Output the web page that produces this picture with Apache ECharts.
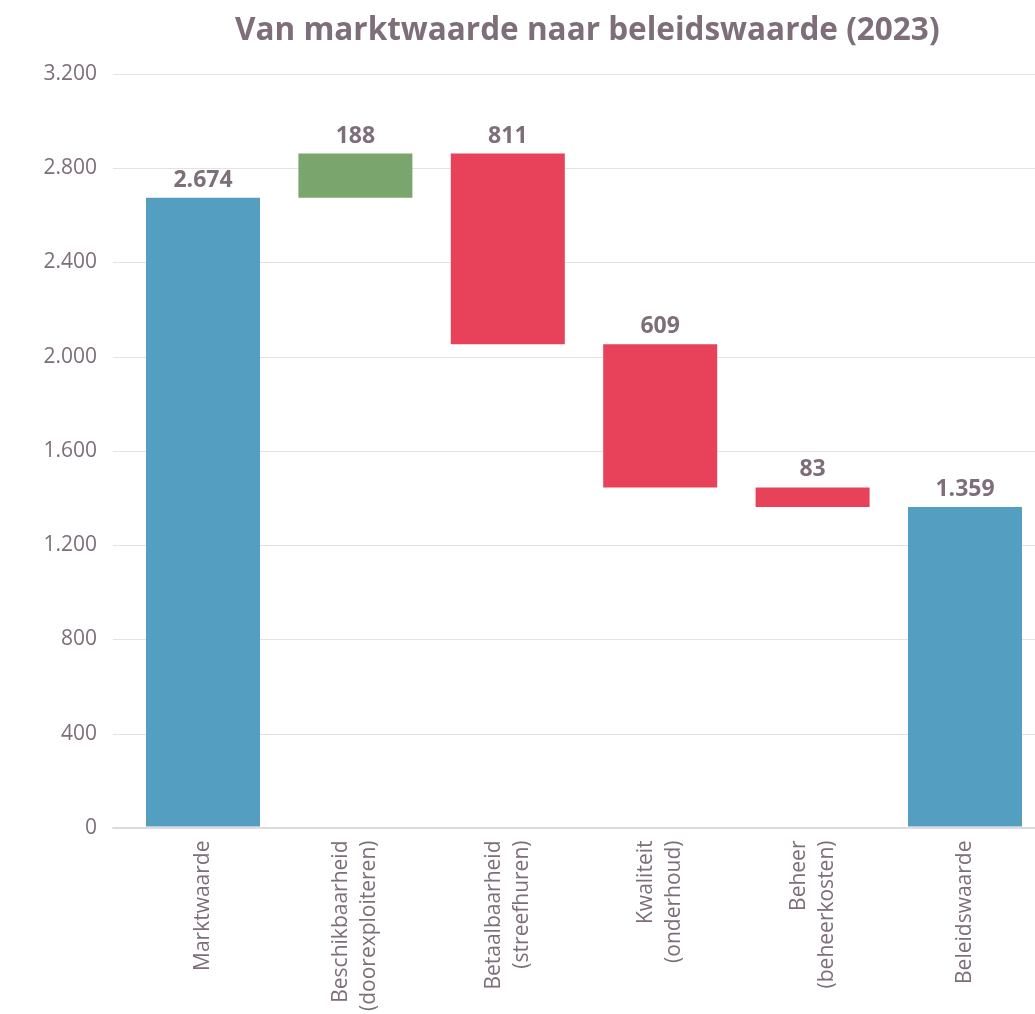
<!DOCTYPE html>
<html>
<head>
<meta charset="utf-8">
<script src="https://cdn.jsdelivr.net/npm/echarts@6/dist/echarts.min.js"></script>
<style>
  html, body { margin: 0; padding: 0; background: #fff; }
  #chart { width: 1035px; height: 1014px; }
</style>
</head>
<body>
<div id="chart"></div>
<script>
var categories = ['Marktwaarde', 'Beschikbaarheid\n(doorexploiteren)', 'Betaalbaarheid\n(streefhuren)', 'Kwaliteit\n(onderhoud)', 'Beheer\n(beheerkosten)', 'Beleidswaarde'];
var amounts = [2674, 188, 811, 609, 83, 1359];
var kinds = ['total', 'up', 'down', 'down', 'down', 'total'];
var yTicks = [0, 400, 800, 1200, 1600, 2000, 2400, 2800, 3200];

var textColor = '#7d6e7a';
var kindColor = { total: '#549ec2', up: '#7aa66e', down: '#e8425a' };

function nl(v) {
	return String(v).replace(/\B(?=(\d{3})+(?!\d))/g, '.');
}

// onzichtbare basis + zichtbaar deel (waterval)
var base = [];
var shown = [];
var running = 0;
for (var i = 0; i < amounts.length; i++) {
	var v = amounts[i];
	if (kinds[i] == 'total') {
		base.push(0);
		running = v;
	} else if (kinds[i] == 'up') {
		base.push(running);
		running += v;
	} else {
		running -= v;
		base.push(running);
	}
	shown.push({ value: v, itemStyle: { color: kindColor[kinds[i]] } });
}

var myChart = echarts.init(document.getElementById('chart'));
var option = {
	backgroundColor: '#fff',
	animation: false,
	title: {
		text: 'Van marktwaarde naar beleidswaarde (2023)',
		left: 230,
		top: 10,
		textStyle: { fontFamily: 'Open Sans', fontSize: 31.5, fontWeight: 'bold', color: textColor }
	},
	grid: [
		{ left: 113, right: 0, top: 74, bottom: 186 },
		// kolommen op de randen (boundaryGap false) zodat de laatste kolom tot 1022 loopt
		{ left: 203, right: 70, top: 74, bottom: 186 }
	],
	xAxis: [
		{
			gridIndex: 0, type: 'value', min: 0, max: 1,
			axisLine: { show: true, lineStyle: { color: '#dedbde', width: 2 } },
			axisTick: { show: false }, axisLabel: { show: false }, splitLine: { show: false }
		},
		{
			gridIndex: 1, type: 'category', data: categories, boundaryGap: false,
			axisLine: { show: false }, axisTick: { show: false },
			axisLabel: {
				rotate: 90, margin: 14, interval: 0,
				fontFamily: 'Open Sans', fontSize: 21, lineHeight: 28, color: textColor
			}
		}
	],
	yAxis: [
		{
			gridIndex: 0, type: 'value', min: yTicks[0], max: yTicks[yTicks.length - 1], interval: 400,
			axisLine: { show: false }, axisTick: { show: false },
			axisLabel: { margin: 16, fontFamily: 'Open Sans', fontSize: 21, color: textColor, formatter: function (v) { return nl(v); } },
			splitLine: { lineStyle: { color: '#e3e3e3', width: 1 } }
		},
		{
			gridIndex: 1, type: 'value', min: yTicks[0], max: yTicks[yTicks.length - 1], interval: 400,
			show: false, splitLine: { show: false }
		}
	],
	series: [
		{
			name: 'basis', type: 'bar', stack: 'w', xAxisIndex: 1, yAxisIndex: 1,
			barWidth: 114, itemStyle: { color: 'transparent' }, silent: true,
			data: base
		},
		{
			name: 'waarde', type: 'bar', stack: 'w', xAxisIndex: 1, yAxisIndex: 1,
			barWidth: 114, data: shown,
			label: {
				show: true, position: 'top', distance: 6,
				fontFamily: 'Open Sans', fontSize: 23, fontWeight: 'bold', color: textColor,
				formatter: function (p) { return nl(p.value); }
			}
		}
	]
};
myChart.setOption(option);
</script>
</body>
</html>
